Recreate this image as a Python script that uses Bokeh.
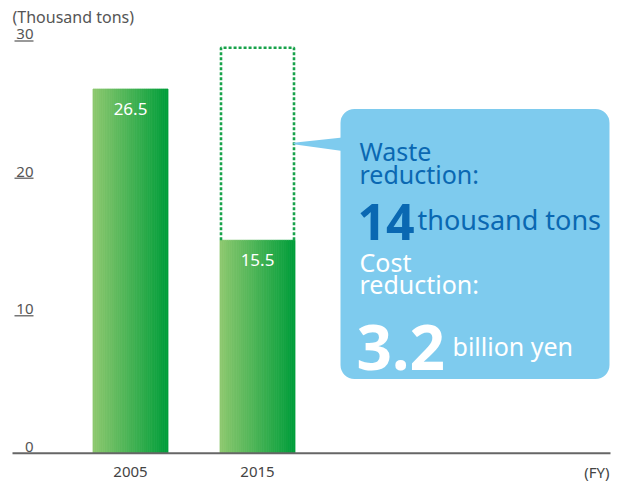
import numpy as np
from bokeh.plotting import figure
from bokeh.models import Range1d, BoxAnnotation
from bokeh.core.properties import value
from bokeh.embed import file_html
from bokeh.resources import INLINE

# ---- data ----
years = ["2005", "2015"]
year_pos = [2005, 2015]
waste = [26.5, 15.5]
y_ticks = [0, 10, 20, 30]
y_tick_labels = ["0", "10", "20", "30"]
waste_reduction = 14
cost_reduction = 3.2
unit_label = "(Thousand tons)"
x_unit_label = "(FY)"
waste_lines = ["Waste", "reduction:"]
waste_unit = "thousand tons"
cost_lines = ["Cost", "reduction:"]
cost_unit = "billion yen"

# ---- layout helpers (reference pixel -> data) ----
PPX = 12.7
PPY = 14.17
SY = 0.97            # slight vertical compression so everything fits
OY = -7.5
def X(px):
    return year_pos[0] + (px - 130) / PPX
def Y(py):
    return (474.5 - py) / PPY

W, H = 611, 481
FONT = value("Noto Sans")
BLUE = "#0a68b2"
GRAY = "#555555"

p = figure(width=W, height=H, x_range=Range1d(X(0), X(W)),
           y_range=Range1d(Y((H - OY) / SY), Y(-OY / SY)),
           output_backend="svg", toolbar_location=None, min_border=0,
           x_axis_type=None, y_axis_type=None)
p.grid.visible = False
p.outline_line_color = None
p.background_fill_color = "white"

# ---- gradient bars ----
N = 40
BW = 75 / PPX
c0 = np.array([143, 201, 112])
c1 = np.array([0, 158, 58])
xs, tops, cols = [], [], []
for xp, v in zip(year_pos, waste):
    for k in range(N):
        t = (k + 0.5) / N
        xs.append(xp - BW / 2 + (k + 0.5) * BW / N)
        tops.append(v)
        c = (c0 + (c1 - c0) * t).astype(int)
        cols.append("#%02x%02x%02x" % tuple(c))
p.vbar(x=xs, top=tops, bottom=0, width=BW / N, fill_color=cols,
       line_color=cols, line_width=0.8)

# ---- dotted box for reduction ----
x2 = year_pos[1]
d = 1 / PPX
top = waste[1] + waste_reduction
p.line(x=[x2 - BW / 2 + d, x2 - BW / 2 + d, x2 + BW / 2 - d, x2 + BW / 2 - d],
       y=[waste[1], top, top, waste[1]], line_color="#17a24a",
       line_width=2.6, line_dash="3 2")

# ---- bar value labels ----
p.text(x=year_pos, y=waste, text=[f"{v}" for v in waste], text_align="center",
       text_baseline="alphabetic", y_offset=20, text_font=FONT,
       text_font_size=value("17px"), text_color="white")

# ---- axis baseline ----
p.segment(x0=[X(12)], y0=[0], x1=[X(610)], y1=[0], line_color="#666666",
          line_width=2)

# ---- y tick underlines and labels ----
tk = [t for t in y_ticks if t != 0]
p.segment(x0=[X(14)] * len(tk), y0=tk, x1=[X(33)] * len(tk), y1=tk,
          line_color="#777777", line_width=1.5)
p.text(x=[X(33)] * len(y_ticks), y=y_ticks, text=y_tick_labels,
       text_align="right", text_baseline="alphabetic", y_offset=-6.5,
       text_font=FONT, text_font_size=value("15px"), text_color=GRAY)

# ---- x labels ----
p.text(x=year_pos, y=[0] * len(years), text=years, text_align="center",
       text_baseline="alphabetic", y_offset=18.5, text_font=FONT,
       text_font_size=value("15px"), text_color="#444444")
p.text(x=[X(609)], y=[0], text=[x_unit_label], text_align="right",
       text_baseline="alphabetic", y_offset=18.5, text_font=FONT,
       text_font_size=value("15px"), text_color="#444444")
p.text(x=[X(12)], y=[Y(25)], text=[unit_label], text_align="left",
       text_baseline="alphabetic", text_font=FONT,
       text_font_size=value("16px"), text_color=GRAY)

# ---- callout ----
BOXC = "#7ecbee"
box = BoxAnnotation(left=X(340), right=X(609), top=Y(119.5), bottom=Y(398),
                    fill_color=BOXC, fill_alpha=1, line_color=None,
                    border_radius=14, level="underlay")
p.add_layout(box)
p.patch(x=[X(293), X(342), X(342), X(293)],
        y=[Y(154.5), Y(149), Y(163), Y(156)], fill_color=BOXC,
        line_color=None)

p.text(x=[X(359)] * 2, y=[Y(163), Y(187)], text=waste_lines,
       text_baseline="alphabetic", text_font=FONT,
       text_font_size=value("25px"), text_color=BLUE)
p.text(x=[X(357)], y=[Y(236)], text=[f"{waste_reduction:g}"],
       text_baseline="alphabetic", text_font=FONT, text_font_style="bold",
       text_font_size=value("50px"), text_color=BLUE)
p.text(x=[X(417)], y=[Y(234)], text=[waste_unit],
       text_baseline="alphabetic", text_font=FONT,
       text_font_size=value("27px"), text_color=BLUE)

p.text(x=[X(359)] * 2, y=[Y(277), Y(300)], text=cost_lines,
       text_baseline="alphabetic", text_font=FONT,
       text_font_size=value("25px"), text_color="white")
p.text(x=[X(356)], y=[Y(365)], text=[f"{cost_reduction:g}"],
       text_baseline="alphabetic", text_font=FONT, text_font_style="bold",
       text_font_size=value("62px"), text_color="white")
p.text(x=[X(452)], y=[Y(364)], text=[cost_unit],
       text_baseline="alphabetic", text_font=FONT,
       text_font_size=value("25px"), text_color="white")

open("out.html", "w").write(file_html(p, INLINE))
